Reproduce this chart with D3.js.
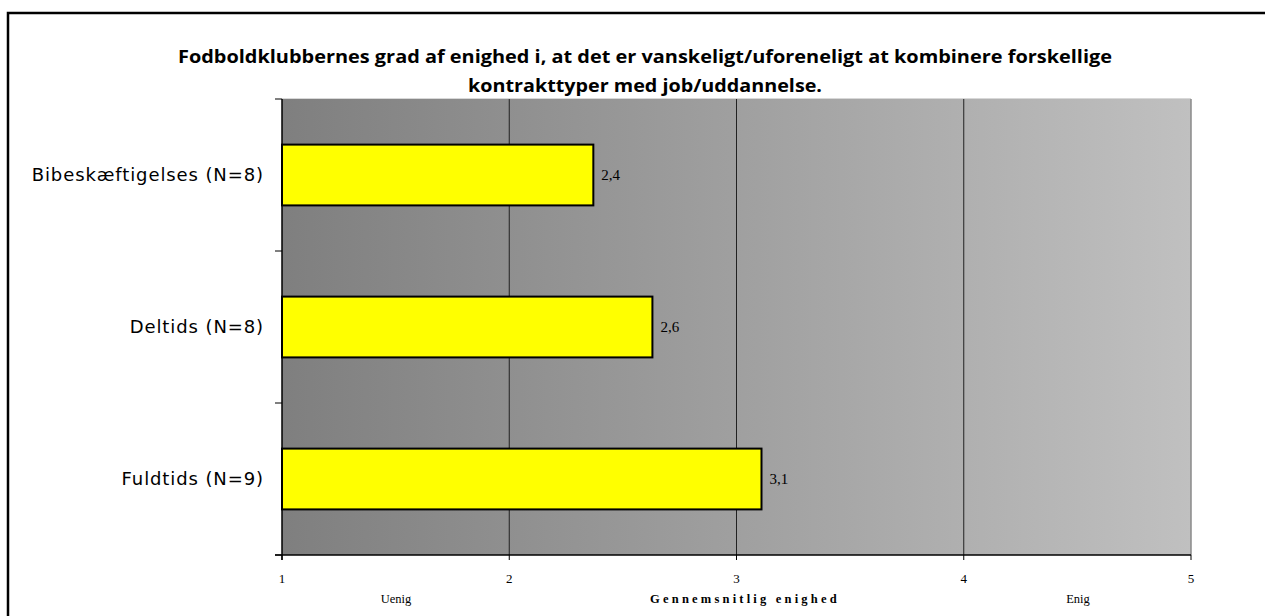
<!DOCTYPE html>
<html><head><meta charset="utf-8">
<script src="https://cdn.jsdelivr.net/npm/d3@7"></script>
<style>body{margin:0;background:#fff}svg{display:block}</style>
</head><body>
<script>
const titleLines = ["Fodboldklubbernes grad af enighed i, at det er vanskeligt/uforeneligt at kombinere forskellige","kontrakttyper med job/uddannelse."];
const categories = ["Bibeskæftigelses (N=8)","Deltids (N=8)","Fuldtids (N=9)"];
const values = [2.37, 2.63, 3.11];
const valueLabels = ["2,4","2,6","3,1"];
const xTicks = [1,2,3,4,5];
const xAxisLabels = ["Uenig","Gennemsnitlig enighed","Enig"];

const W=1265,H=616;
const m={l:282,r:1191,t:99,b:555};
const svg=d3.select("body").append("svg").attr("width",W).attr("height",H);

// outer frame
svg.append("path").attr("d",`M8,${H} L8,13 L${W},13`).attr("fill","none").attr("stroke","#000").attr("stroke-width",2.5);

const defs=svg.append("defs");
const g=defs.append("linearGradient").attr("id","bg").attr("x1","0").attr("x2","1").attr("y1","0").attr("y2","0");
g.append("stop").attr("offset","0").attr("stop-color","#7f7f7f");
g.append("stop").attr("offset","1").attr("stop-color","#c0c0c0");

const x=d3.scaleLinear().domain([1,5]).range([m.l,m.r]);
const y=d3.scaleBand().domain(categories).range([m.t,m.b]).paddingInner(0.6).paddingOuter(0.3);
const yb=d3.scaleBand().domain(categories).range([m.t,m.b]);

svg.append("rect").attr("x",m.l).attr("y",m.t).attr("width",m.r-m.l).attr("height",m.b-m.t).attr("fill","url(#bg)");
svg.append("line").attr("x1",m.l).attr("x2",m.r).attr("y1",m.t-0.5).attr("y2",m.t-0.5).attr("stroke","#d8d8d8").attr("stroke-width",1);
svg.append("line").attr("x1",m.r).attr("x2",m.r).attr("y1",m.t).attr("y2",m.b).attr("stroke","#8a8a8a").attr("stroke-width",1.5);

// gridlines
svg.selectAll("line.grid").data([2,3,4]).enter().append("line")
 .attr("x1",d=>x(d)).attr("x2",d=>x(d)).attr("y1",m.t).attr("y2",m.b)
 .attr("stroke","#222").attr("stroke-width",1);

// bars
svg.selectAll("rect.bar").data(values).enter().append("rect")
 .attr("x",x(1)).attr("y",(d,i)=>y(categories[i]))
 .attr("width",d=>x(d)-x(1)).attr("height",y.bandwidth())
 .attr("fill","#ffff00").attr("stroke","#000").attr("stroke-width",2);

svg.selectAll("text.vl").data(values).enter().append("text")
 .attr("x",d=>x(d)+8).attr("y",(d,i)=>y(categories[i])+y.bandwidth()/2+5)
 .attr("font-family","Liberation Serif, Times New Roman, serif").attr("font-size",15).attr("fill","#000")
 .text((d,i)=>valueLabels[i]);

// y axis
svg.append("line").attr("x1",m.l).attr("x2",m.l).attr("y1",m.t).attr("y2",m.b+5).attr("stroke","#000").attr("stroke-width",1.5);
const yt=[m.t,...categories.map(c=>yb(c)+yb.bandwidth())];
svg.selectAll("line.yt").data(yt).enter().append("line")
 .attr("x1",275).attr("x2",m.l).attr("y1",d=>d).attr("y2",d=>d).attr("stroke","#000").attr("stroke-width",1);
svg.selectAll("text.cat").data(categories).enter().append("text")
 .attr("x",264).attr("y",c=>yb(c)+yb.bandwidth()/2+6).attr("text-anchor","end")
 .attr("font-family","DejaVu Sans, sans-serif").attr("font-size",18).attr("letter-spacing",0.9)
 .attr("fill","#000").text(c=>c);

// x axis
svg.append("line").attr("x1",275).attr("x2",m.r).attr("y1",m.b).attr("y2",m.b).attr("stroke","#000").attr("stroke-width",1.5);
svg.selectAll("line.xt").data(xTicks).enter().append("line")
 .attr("x1",d=>x(d)).attr("x2",d=>x(d)).attr("y1",m.b).attr("y2",m.b+5).attr("stroke","#000").attr("stroke-width",1);
svg.selectAll("text.xt").data(xTicks).enter().append("text")
 .attr("x",d=>x(d)).attr("y",583).attr("text-anchor","middle")
 .attr("font-family","Liberation Serif, serif").attr("font-size",13).attr("fill","#000").text(d=>d);
const axPos=[396,745,1078];
svg.selectAll("text.xl").data(xAxisLabels).enter().append("text")
 .attr("x",(d,i)=>axPos[i]).attr("y",603).attr("text-anchor","middle")
 .attr("font-family","Liberation Serif, serif").attr("font-size",12.5)
 .attr("font-weight",(d,i)=>i===1?"bold":"normal").attr("letter-spacing",(d,i)=>i===1?3.2:0)
 .attr("fill","#000").text(d=>d);

// title
svg.selectAll("text.title").data(titleLines).enter().append("text")
 .attr("x",645).attr("y",(d,i)=>63+i*29).attr("text-anchor","middle")
 .attr("font-family","Open Sans, sans-serif").attr("font-weight","bold").attr("font-size",18.5)
 .attr("textLength",(d,i)=>i===0?934:354).attr("lengthAdjust","spacingAndGlyphs")
 .attr("fill","#000").text(d=>d);
</script>
</body></html>
